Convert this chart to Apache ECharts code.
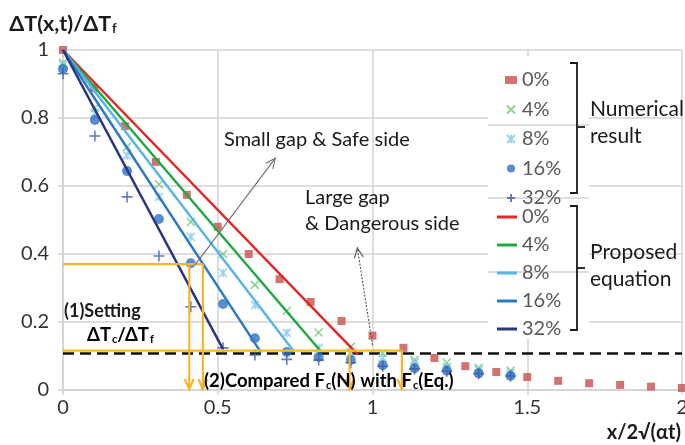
<!DOCTYPE html>
<html>
<head>
<meta charset="utf-8">
<script src="https://cdn.jsdelivr.net/npm/echarts@6/dist/echarts.min.js"></script>
<style>
html,body{margin:0;padding:0;background:#fff;}
#chart{width:685px;height:445px;}
</style>
</head>
<body>
<div id="chart"></div>
<script>
// ---- data ----
const xs0 = [0,0.1,0.2,0.3,0.4,0.5,0.6,0.7,0.8,0.9,1.0,1.1,1.2,1.3,1.4,1.5,1.6,1.7,1.8,1.9,2.0];
const v0  = [1.0,0.888,0.776,0.671,0.574,0.48,0.4,0.326,0.259,0.203,0.16,0.124,0.094,0.07,0.053,0.038,0.027,0.02,0.015,0.01,0.006];
const xsN = [0,0.103,0.207,0.31,0.413,0.517,0.62,0.723,0.826,0.93,1.033,1.136,1.24,1.343,1.446];
const v4  = [0.962,0.83,0.715,0.605,0.494,0.40,0.309,0.233,0.169,0.127,0.108,0.088,0.08,0.065,0.057];
const v8  = [0.955,0.815,0.69,0.568,0.45,0.344,0.25,0.168,0.124,0.11,0.095,0.08,0.068,0.058,0.05];
const v16 = [0.944,0.794,0.644,0.503,0.373,0.253,0.152,0.112,0.097,0.088,0.073,0.064,0.057,0.049,0.042];
const v32 = [0.93,0.747,0.568,0.394,0.245,0.124,0.103,0.09,0.088,0.08,0.07,0.062,0.055,0.048,0.041];
const pctNames = ['0%','4%','8%','16%','32%'];
// proposed equation lines: start (0,1) to end points
const eqStartX = [0,0,0,0,0];
const eqStartY = [1,1,1,1,1];
const eqEndX = [0.952,0.83,0.745,0.64,0.517];
const eqEndY = [0.105,0.117,0.115,0.11,0.12];
const criticalLevel = 0.107;
// annotation segments [x1,y1,x2,y2,arrowHead]
const orangeSegs = [
  [0,0.37,0.452,0.37,0],[0.408,0.37,0.408,0.003,1],[0.452,0.37,0.452,0.003,1],
  [0,0.116,1.095,0.116,0],[0.926,0.116,0.926,0.003,1],[1.095,0.116,1.095,0.003,1]
];
const grayArrowSafe = [[0.427,0.368,0.686,0.682,1]];
const grayArrowDanger = [[1.0,0.132,0.951,0.418,1]];
const xTicks = {min:0,max:2,interval:0.5};
const yTicks = {min:0,max:1,interval:0.2};

const FONT = 'Lato, "Open Sans", sans-serif';
const scatterColors = ['#C8504D','#72C872','#80C6EC','#2A72C2','#3D5CA8'];
const lineColors = ['#E02828','#22A844','#5AB4E6','#2C7AC6','#2A3580'];
const symbols = ['rect','path://M0,0L10,10M10,0L0,10','path://M0,0L10,10M10,0L0,10M5,0L5,10','circle','path://M5,0L5,10M0,5L10,5'];
const sizes = [8,8,8,10,11];
const numVals = [v0,v4,v8,v16,v32];

function zip(xs, ys){ return ys.map((y,i)=>[xs[i],y]); }

const series = [];
pctNames.forEach((n,i)=>{
  const isPath = symbols[i].startsWith('path');
  series.push({
    name:'N'+n, type:'scatter', data: zip(i===0?xs0:xsN, numVals[i]),
    symbol: symbols[i], symbolSize: sizes[i], z: 3,
    itemStyle: isPath ? {color: scatterColors[i], borderColor: scatterColors[i], borderWidth: 1.6}
                      : {color: scatterColors[i]}
  });
});
pctNames.forEach((n,i)=>{
  series.push({
    name:'E'+n, type:'line', data: [[eqStartX[i],eqStartY[i]],[eqEndX[i],eqEndY[i]]],
    showSymbol:false, symbol:'none', z: 4,
    lineStyle:{color: lineColors[i], width: 2.5}, itemStyle:{color: lineColors[i]}
  });
});
series.push({
  name:'critical', type:'line', data:[[xTicks.min,criticalLevel],[xTicks.max,criticalLevel]],
  symbol:'none', z:2, lineStyle:{color:'#111', width:2.5, type:[11,6]}
});

function arrowRenderer(color, width, dash){
  return function(params, api){
    const p1 = api.coord([api.value(0), api.value(1)]);
    const p2 = api.coord([api.value(2), api.value(3)]);
    const children = [{type:'line', shape:{x1:p1[0],y1:p1[1],x2:p2[0],y2:p2[1]},
      style:{stroke:color, lineWidth:width, lineDash: dash || null}}];
    if (api.value(4)) {
      const dx = p2[0]-p1[0], dy = p2[1]-p1[1];
      const L = Math.sqrt(dx*dx+dy*dy) || 1;
      const ux = dx/L, uy = dy/L, nx = -uy, ny = ux;
      const al = 10, aw = 4.5;
      children.push({type:'polyline', shape:{points:[
        [p2[0]-ux*al+nx*aw, p2[1]-uy*al+ny*aw], [p2[0],p2[1]], [p2[0]-ux*al-nx*aw, p2[1]-uy*al-ny*aw]]},
        style:{stroke:color, lineWidth:width, fill:null}});
    }
    return {type:'group', children};
  };
}
series.push({type:'custom', name:'orange', data: orangeSegs, encode:{x:[0,2],y:[1,3]}, clip:false, z:5,
  renderItem: arrowRenderer('#F7B52A', 2.2)});
series.push({type:'custom', name:'safe', data: grayArrowSafe, encode:{x:[0,2],y:[1,3]}, clip:false, z:5,
  renderItem: arrowRenderer('#6E6E6E', 1.1)});
series.push({type:'custom', name:'danger', data: grayArrowDanger, encode:{x:[0,2],y:[1,3]}, clip:false, z:5,
  renderItem: arrowRenderer('#555555', 1.1, [2,1.5])});

const subRich = {
  b: {fontSize: 18.5, fontWeight:'bold', fontFamily: FONT, color:'#1a1a1a'},
  s: {fontSize: 11, fontWeight:'bold', fontFamily: FONT, color:'#1a1a1a', verticalAlign:'bottom', lineHeight: 12, padding:[0,0,0,1]}
};

const gridColor = '#D3D3D3';
const option = {
  animation:false,
  textStyle:{fontFamily: FONT},
  grid:{left:63, right:3, top:50, bottom:55, containLabel:false, outerBoundsMode:'none'},
  xAxis:{type:'value', min:xTicks.min, max:xTicks.max, interval:xTicks.interval,
    name:'x/2√(αt)', nameLocation:'end', nameGap:0,
    nameTextStyle:{fontSize:20, fontWeight:'bold', color:'#1a1a1a', align:'right', verticalAlign:'top', padding:[33,1,0,0], fontFamily:FONT},
    axisLine:{show:true, lineStyle:{color:gridColor, width:1.5}},
    axisTick:{show:true, length:5, lineStyle:{color:gridColor, width:1.5}},
    splitLine:{show:true, lineStyle:{color:gridColor, width:1.5}},
    axisLabel:{fontSize:20, color:'#333', margin:8, fontFamily:FONT}},
  yAxis:{type:'value', min:yTicks.min, max:yTicks.max, interval:yTicks.interval,
    name:'{b|ΔT(x,t)/ΔT}{s|f}', nameLocation:'end', nameGap:26,
    nameTextStyle:{align:'center', verticalAlign:'middle', rich:{
      b:{fontSize:21.5, fontWeight:'bold', fontFamily:FONT, color:'#1a1a1a'},
      s:{fontSize:13, fontWeight:'bold', fontFamily:FONT, color:'#1a1a1a', verticalAlign:'bottom', lineHeight:12, padding:[0,0,0,1]}}},
    axisLine:{show:true, lineStyle:{color:gridColor, width:1.5}},
    axisTick:{show:true, length:5, lineStyle:{color:gridColor, width:1.5}},
    splitLine:{show:true, lineStyle:{color:gridColor, width:1.5}},
    axisLabel:{fontSize:20, color:'#333', margin:14, fontFamily:FONT}},
  legend:[
    {data: pctNames.map(n=>'N'+n), orient:'vertical', left:500, top:65, itemWidth:12, itemHeight:8,
     itemGap:9.5, formatter: n=>n.slice(1), textStyle:{fontSize:20, color:'#595959', fontFamily:FONT, lineHeight:18}, selectedMode:false},
    {data: pctNames.map(n=>'E'+n), orient:'vertical', left:492, top:202, itemWidth:20, itemHeight:3, icon:'rect',
     itemGap:8, formatter: n=>n.slice(1), textStyle:{fontSize:20, color:'#595959', fontFamily:FONT, lineHeight:18}, selectedMode:false}
  ],
  graphic:[
    {type:'rect', z:1, shape:{x:488, y:56, width:101, height:283}, style:{fill:'#fff'}},
    {type:'line', z:1, shape:{x1:488,y1:125,x2:589,y2:125}, style:{stroke:gridColor, lineWidth:1.5}},
    {type:'line', z:1, shape:{x1:488,y1:198,x2:589,y2:198}, style:{stroke:gridColor, lineWidth:1.5}},
    {type:'line', z:1, shape:{x1:488,y1:272,x2:589,y2:272}, style:{stroke:gridColor, lineWidth:1.5}},
    {type:'polyline', z:6, shape:{points:[[570,63],[577,63],[577,193],[570,193]]}, style:{stroke:'#1a1a1a', lineWidth:1.8, fill:null}},
    {type:'line', z:6, shape:{x1:577,y1:127,x2:585,y2:127}, style:{stroke:'#1a1a1a', lineWidth:1.8}},
    {type:'polyline', z:6, shape:{points:[[570,206],[577,206],[577,330],[570,330]]}, style:{stroke:'#1a1a1a', lineWidth:1.8, fill:null}},
    {type:'line', z:6, shape:{x1:577,y1:268,x2:585,y2:268}, style:{stroke:'#1a1a1a', lineWidth:1.8}},
    {type:'text', z:6, left:590, top:99, style:{text:'Numerical', font:'21px '+FONT, fill:'#1a1a1a'}},
    {type:'text', z:6, left:590, top:126, style:{text:'result', font:'21px '+FONT, fill:'#1a1a1a'}},
    {type:'text', z:6, left:590, top:242, style:{text:'Proposed', font:'21px '+FONT, fill:'#1a1a1a'}},
    {type:'text', z:6, left:590, top:269, style:{text:'equation', font:'21px '+FONT, fill:'#1a1a1a'}},
    {type:'text', z:6, left:224, top:130, style:{text:'Small gap & Safe side', font:'20px '+FONT, fill:'#1a1a1a'}},
    {type:'text', z:6, left:305, top:188, style:{text:'Large gap', font:'20px '+FONT, fill:'#1a1a1a'}},
    {type:'text', z:6, left:305, top:214, style:{text:'& Dangerous side', font:'20px '+FONT, fill:'#1a1a1a'}},
    {type:'text', z:6, left:64, top:302, style:{text:'(1)Setting', font:'bold 18px '+FONT, fill:'#1a1a1a'}},
    {type:'text', z:6, left:87, top:326, style:{text:'{b|ΔT}{s|c}{b|/ΔT}{s|f}', rich:subRich}},
    {type:'text', z:6, left:204, top:372, style:{text:'{b|(2)Compared F}{s|c}{b|(N) with F}{s|c}{b|(Eq.)}', rich:subRich}}
  ],
  series
};
const chart = echarts.init(document.getElementById('chart'), null, {renderer:'canvas'});
chart.setOption(option);
</script>
</body>
</html>
